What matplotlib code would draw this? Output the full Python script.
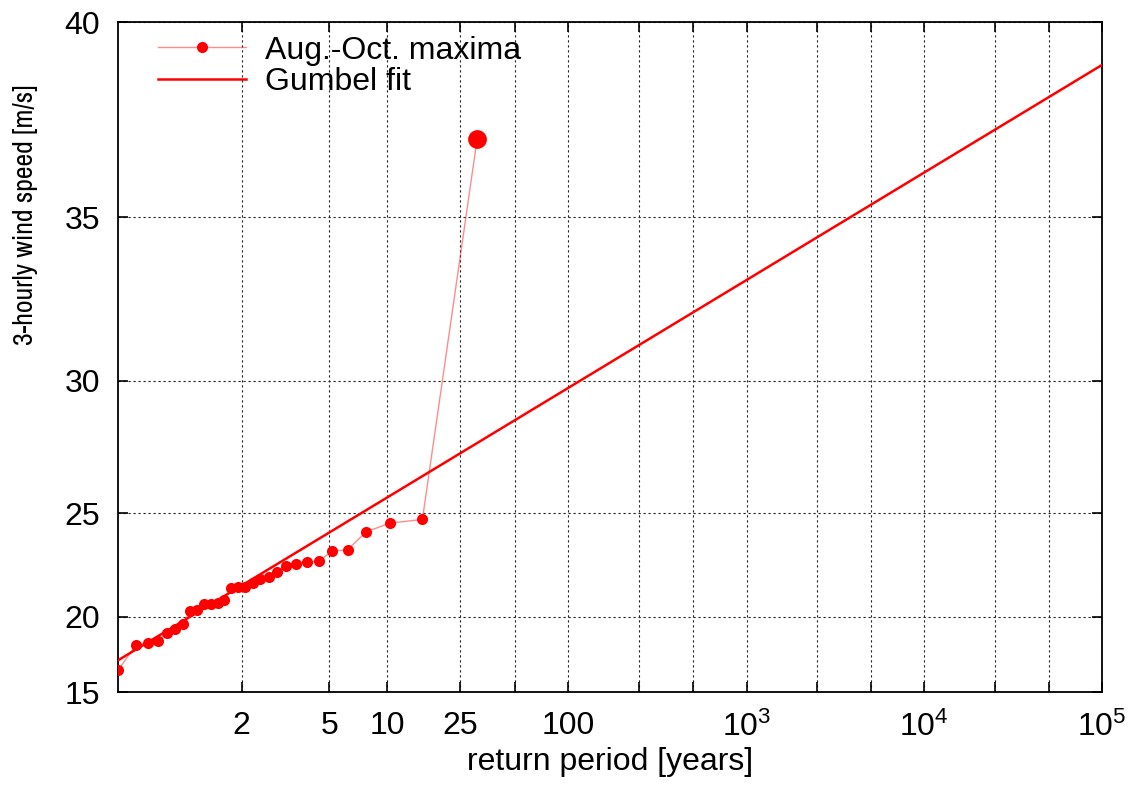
import numpy as np
import matplotlib
matplotlib.use('Agg')
import matplotlib.pyplot as plt
from matplotlib import font_manager
from matplotlib.lines import Line2D

# ---------------- data ----------------
# return period [years] of the ranked Aug.-Oct. maxima
ret_period = [1.033, 1.069, 1.107, 1.148, 1.192, 1.240, 1.292, 1.348, 1.409, 1.476,
              1.550, 1.632, 1.722, 1.824, 1.938, 2.067, 2.214, 2.385, 2.583, 2.818,
              3.100, 3.444, 3.875, 4.429, 5.167, 6.200, 7.750, 10.33, 15.50, 31.00]
# 3-hourly wind speed maxima [m/s]
wind_max = [16.63, 18.30, 18.47, 18.55, 19.07, 19.27, 19.56, 20.31, 20.35, 20.71,
            20.71, 20.75, 20.89, 21.55, 21.60, 21.60, 21.79, 22.01, 22.09, 22.33,
            22.61, 22.74, 22.82, 22.85, 23.32, 23.39, 24.20, 24.58, 24.74, 37.12]
# Gumbel fit end points
fit_T = [1.033, 1e5]
fit_v = [17.32, 38.97]

xticks = [2, 5, 10, 25, 50, 100, 250, 500, 1e3, 2.5e3, 5e3, 1e4, 2.5e4, 5e4, 1e5]
xlabels = ['2', '5', '10', '25', '', '100', '', '', '$10^3$', '', '', '$10^4$', '', '', '$10^5$']
yticks = [15, 20, 25, 30, 35, 40]

K = 2.25  # power of the wind-speed axis

def gumbel(T):
    T = np.asarray(T, float)
    return -np.log(-np.log(1.0 - 1.0 / T))

def gumbel_inv(y):
    y = np.asarray(y, float)
    return 1.0 / (1.0 - np.exp(-np.exp(-y)))

def vpow(v):
    return np.sign(v) * np.abs(v) ** K

def vpow_inv(u):
    return np.sign(u) * np.abs(u) ** (1.0 / K)

# condensed face for the y label, if one is installed
narrow = None
for f in font_manager.fontManager.ttflist:
    nm = f.name.lower()
    if ('narrow' in nm or 'condensed' in nm) and f.style == 'normal' and f.weight in (400, 'normal', 'regular'):
        if narrow is None or 'liberation' in nm or 'arial' in nm:
            narrow = f.name
FS = 23

# ---------------- figure ----------------
plt.rcParams['font.family'] = ['Liberation Sans', 'DejaVu Sans']
plt.rcParams['mathtext.default'] = 'regular'
plt.rcParams['font.size'] = FS

fig = plt.figure(figsize=(11.33, 7.95), dpi=100)
ax = fig.add_axes([118/1133, 1-692/795, 984/1133, 670/795])
ax.set_xscale('function', functions=(gumbel, gumbel_inv))
ax.set_yscale('function', functions=(vpow, vpow_inv))

red = '#ff0000'
ax.plot(ret_period, wind_max, '-', color=red, alpha=0.45, lw=1.0, zorder=2)
ax.plot(ret_period[:-1], wind_max[:-1], 'o', color=red, ms=8, mec='none', zorder=3)
ax.plot(ret_period[-1], wind_max[-1], 'o', color=red, ms=13.5, mec='none', zorder=3)
ax.plot(fit_T, fit_v, '-', color=red, lw=1.8, zorder=3)

ax.set_xlim(1.033, 1e5)
ax.set_ylim(15, 40)
ax.set_xticks(xticks)
ax.set_xticklabels(xlabels)
ax.set_yticks(yticks)
ax.set_yticklabels([str(t) for t in yticks])
ax.xaxis.set_minor_locator(matplotlib.ticker.NullLocator())
ax.yaxis.set_minor_locator(matplotlib.ticker.NullLocator())
ax.tick_params(direction='in', length=7, width=1.2, top=True, right=True, labelsize=FS)
ax.tick_params(axis='x', pad=14)
ax.tick_params(axis='y', pad=13)
for s in ax.spines.values():
    s.set_linewidth(1.3)
ax.grid(True, color='#222222', lw=0.8, linestyle=(0, (2, 2.5)))

ax.set_xlabel('return period [years]', fontsize=FS, labelpad=3)
if narrow:
    ax.set_ylabel('3-hourly wind speed [m/s]', fontsize=20, family=[narrow, 'Liberation Sans'])
else:
    ax.set_ylabel('3-hourly wind speed [m/s]', fontsize=17)
ax.yaxis.set_label_coords(-0.081, 0.712)

h1 = Line2D([], [], color=red, lw=1.0, alpha=0.45)
h1m = Line2D([], [], color=red, ls='none', marker='o', ms=8, mec='none')
h2 = Line2D([], [], color=red, lw=1.8)
ax.legend([(h1, h1m), h2], ['Aug.-Oct. maxima', 'Gumbel fit'], loc='upper left',
          bbox_to_anchor=(0.018, 1.013), frameon=False, fontsize=FS, handlelength=2.75,
          handletextpad=0.6, labelspacing=0.05, borderpad=0.2)

plt.savefig('out.png')
